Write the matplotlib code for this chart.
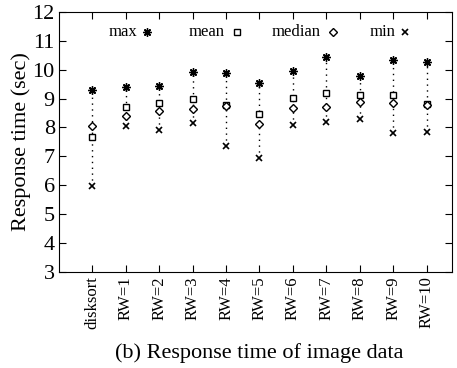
import matplotlib
matplotlib.use("Agg")
import matplotlib.pyplot as plt

plt.rcParams['font.family'] = ['Liberation Serif', 'DejaVu Serif']

categories = ["disksort", "RW=1", "RW=2", "RW=3", "RW=4", "RW=5",
              "RW=6", "RW=7", "RW=8", "RW=9", "RW=10"]
max_vals = [9.29, 9.41, 9.44, 9.92, 9.89, 9.55, 9.96, 10.44, 9.78, 10.33, 10.27]
mean_vals = [7.68, 8.69, 8.86, 8.97, 8.79, 8.46, 9.02, 9.20, 9.12, 9.12, 8.81]
median_vals = [8.05, 8.38, 8.56, 8.62, 8.75, 8.11, 8.66, 8.71, 8.89, 8.86, 8.78]
min_vals = [5.97, 8.05, 7.91, 8.16, 7.36, 6.93, 8.08, 8.17, 8.29, 7.81, 7.85]

fig = plt.figure(figsize=(4.57, 3.68), dpi=100)
ax = fig.add_axes([0.129, 0.261, 0.860, 0.707])

x = list(range(len(categories)))
ax.vlines(x, min_vals, max_vals, colors='black', linestyles=(0, (1, 3.2)), linewidth=1.0)

star = (8, 2, 0)
ax.plot(x, max_vals, linestyle='none', marker=star, markersize=6, color='black', markeredgewidth=1.0)
ax.plot(x, mean_vals, linestyle='none', marker='s', markersize=5, markerfacecolor='white',
        markeredgecolor='black', markeredgewidth=1.0)
ax.plot(x, median_vals, linestyle='none', marker='D', markersize=4, markerfacecolor='white',
        markeredgecolor='black', markeredgewidth=1.0)
ax.plot(x, min_vals, linestyle='none', marker='x', markersize=5, color='black', markeredgewidth=1.2)

ax.set_xlim(-1, 10.76)
ax.set_ylim(3, 12)
ax.set_yticks(range(3, 13))
ax.set_xticks(x)
ax.set_xticklabels(categories, rotation=90, fontsize=12)
ax.tick_params(axis='y', labelsize=16, direction='in', length=5, right=True, pad=3)
ax.tick_params(axis='x', direction='in', length=5, top=True, pad=3)
for s in ax.spines.values():
    s.set_linewidth(0.8)
ax.set_ylabel("Response time (sec)", fontsize=16, labelpad=1)

# legend row
leg_y = 11.30
entries = [("max", 0.48, 1.64, star, 6, 'black'),
           ("mean", 2.87, 4.32, 's', 5, 'white'),
           ("median", 5.36, 7.21, 'D', 4, 'white'),
           ("min", 8.30, 9.35, 'x', 5, None)]
for label, tx, mx, mk, ms, fc in entries:
    ax.text(tx, leg_y, label, fontsize=12, ha='left', va='center')
    if mk == 'x':
        ax.plot([mx], [leg_y], marker='x', markersize=ms, color='black', markeredgewidth=1.2)
    elif mk == star:
        ax.plot([mx], [leg_y], marker=star, markersize=ms, color='black', markeredgewidth=1.0)
    else:
        ax.plot([mx], [leg_y], marker=mk, markersize=ms, markerfacecolor=fc,
                markeredgecolor='black', markeredgewidth=1.0)

fig.text(0.567, 0.04, "(b) Response time of image data", fontsize=16, ha='center', va='center')

fig.savefig("out.png", dpi=100)
